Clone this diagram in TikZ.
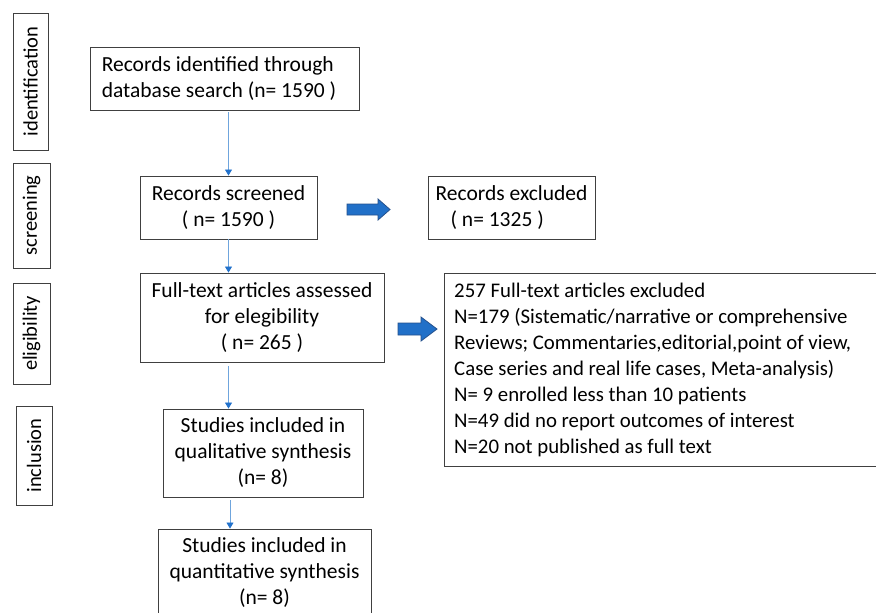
\documentclass[tikz,border=0pt]{standalone}
\usepackage{fontspec}
\setmainfont{Carlito}
\usetikzlibrary{arrows.meta}
\definecolor{conncol}{HTML}{6FA5DD}
\definecolor{tipcol}{HTML}{2272CC}
\definecolor{blockfill}{HTML}{2170C8}
\definecolor{blockline}{HTML}{24508C}
\definecolor{boxline}{HTML}{404040}
\begin{document}
\begin{tikzpicture}[x=1pt,y=-1pt,
  every node/.style={font=\fontsize{21.5}{26}\selectfont},
  box/.style={draw=boxline,line width=0.9pt,inner sep=0pt},
  sidebox/.style={draw=boxline,line width=0.9pt,inner sep=0pt,rotate=90,font=\fontsize{20.5}{25}\selectfont},
  conn/.style={draw=conncol,line width=0.8pt,-{Triangle[width=7pt,length=6pt,color=tipcol]}},
  blockarrow/.style={fill=blockfill,draw=blockline,line width=0.8pt}]
\useasboundingbox (0,0) rectangle (876,613);
\clip (0,0) rectangle (876,613);
\fill[white] (0,0) rectangle (876,613);
% side labels
\node[sidebox,minimum width=137pt,minimum height=35pt] (sid) at (30.5,81.5) {identification};
\node[sidebox,minimum width=105pt,minimum height=37pt] (sscr) at (31.5,215.5) {screening};
\node[sidebox,minimum width=101pt,minimum height=37pt] (selg) at (31.5,333.5) {eligibility};
\node[sidebox,minimum width=99pt,minimum height=36pt] (sinc) at (34,455.5) {inclusion};
% main boxes
\node[box,minimum width=269pt,minimum height=63pt,align=left] (b1) at (224.5,78.5)
  {Records identified through\\database search (n= 1590 )\hspace*{11pt}};
\node[box,minimum width=177pt,minimum height=63pt,align=center] (b2) at (228.5,207.5)
  {Records screened\\( n= 1590 )};
\node[box,minimum width=244pt,minimum height=89pt,align=center] (b3) at (262,317.5)
  {Full-text articles assessed\\for elegibility\\( n= 265 )};
\node[box,minimum width=200pt,minimum height=88pt,align=center] (b4) at (263,453)
  {Studies included in\\qualitative synthesis\\(n= 8)};
\node[box,minimum width=213pt,minimum height=88pt,align=center] (b5) at (264.5,573)
  {Studies included in\\quantitative synthesis\\(n= 8)};
% excluded boxes
\node[box,minimum width=167pt,minimum height=63pt,align=left] (e1) at (511.5,207.5)
  {Records excluded\\\hspace{15pt}( n= 1325 )};
\node[box,anchor=north west,minimum width=460pt,minimum height=193pt] (e2) at (444,273) {};
\node[anchor=west,align=left,inner sep=0pt,font=\fontsize{20.8}{26}\selectfont] (e2t) at ([xshift=10pt]e2.west)
  {257 Full-text articles excluded\\
   N=179 (Sistematic/narrative or comprehensive\\
   Reviews; Commentaries,editorial,point of view,\\
   Case series and real life cases, Meta-analysis)\\
   N= 9 enrolled less than 10 patients\\
   N=49 did no report outcomes of interest\\
   N=20 not published as full text};
% thin connectors
\draw[conn,shorten <=2pt] (b1.south -| b2.north) -- (b2.north);
\draw[conn] (b2.south) -- (b2.south |- b3.north);
\draw[conn,shorten <=4pt] (b2.south |- b3.south) -- (b2.south |- b4.north);
\draw[conn,shorten <=3pt] ([xshift=1.5pt]b2.south |- b4.south) -- ([xshift=1.5pt]b2.south |- b5.north);
% block arrows
\draw[blockarrow] (347,204) -- (378,204) -- (378,199) -- (390,209.5) -- (378,220) -- (378,215) -- (347,215) -- cycle;
\draw[blockarrow] (398,323) -- (421,323) -- (421,317) -- (437,329) -- (421,341) -- (421,335) -- (398,335) -- cycle;
\end{tikzpicture}
\end{document}
